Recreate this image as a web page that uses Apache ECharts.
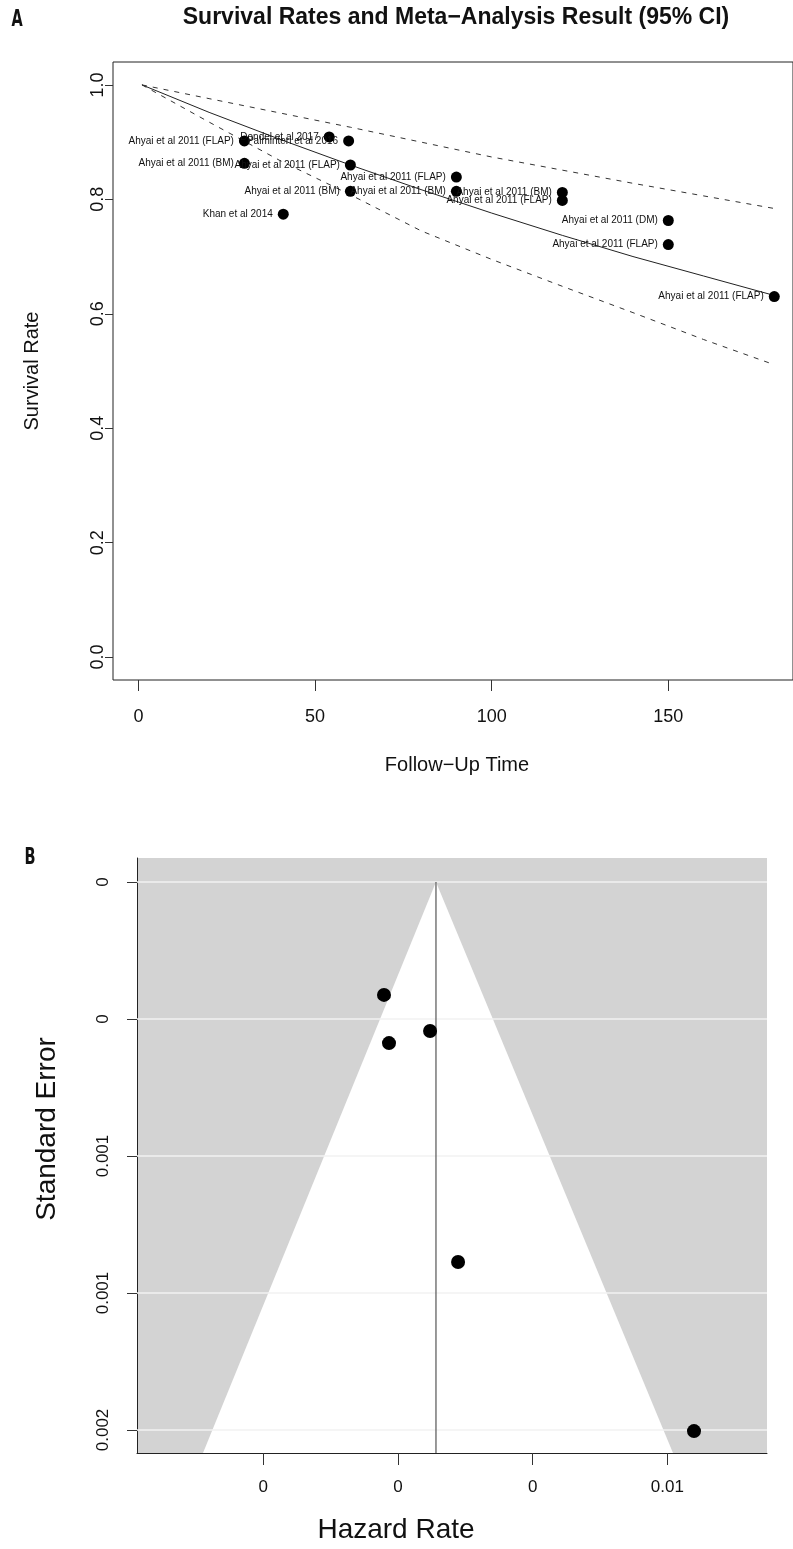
<!DOCTYPE html>
<html><head><meta charset="utf-8">
<script src="https://cdn.jsdelivr.net/npm/echarts@6/dist/echarts.min.js"></script>
<style>html,body{margin:0;padding:0;background:#fff}#c{width:793px;height:1549px}</style>
</head><body><div id="c"></div>
<script>
// ---------- Panel A data ----------
const studyLabels = [
  "Ahyai et al 2011 (FLAP)", "Dondel et al 2017", "Palminteri et al 2016",
  "Ahyai et al 2011 (BM)", "Ahyai et al 2011 (FLAP)", "Ahyai et al 2011 (FLAP)",
  "Ahyai et al 2011 (BM)", "Ahyai et al 2011 (BM)", "Ahyai et al 2011 (BM)",
  "Ahyai et al 2011 (FLAP)", "Khan et al 2014", "Ahyai et al 2011 (DM)",
  "Ahyai et al 2011 (FLAP)", "Ahyai et al 2011 (FLAP)"
];
const followUp = [30, 54, 59.5, 30, 60, 90, 60, 90, 120, 120, 41, 150, 150, 180];
const survival = [0.902, 0.909, 0.902, 0.863, 0.860, 0.839, 0.814, 0.814, 0.812, 0.798, 0.774, 0.763, 0.721, 0.630];

const curveTime = [1, 20, 40, 60, 80, 100, 120, 140, 160, 180];
const pooledSurvival = [1.000, 0.952, 0.905, 0.860, 0.817, 0.776, 0.737, 0.700, 0.666, 0.632];
const upperCI = [1.000, 0.976, 0.951, 0.926, 0.900, 0.874, 0.851, 0.828, 0.806, 0.784];
const lowerCI = [1.000, 0.935, 0.868, 0.808, 0.745, 0.695, 0.648, 0.602, 0.555, 0.511];

const xTicksA = [0, 50, 100, 150];
const yTicksA = [0, 0.2, 0.4, 0.6, 0.8, 1.0];

// ---------- Panel B data ----------
const hazardRate = [-0.00052, -0.000334, 0.00119, 0.00223, 0.01099];
const standardError = [0.000412, 0.000588, 0.000544, 0.001387, 0.002004];
const pooledHazard = 0.00141;
const funnelSE = [0, 0.002084];
const funnelLeft = [0.00141, -0.00724];
const funnelRight = [0.00141, 0.01021];

const xTicksB = [-0.005, 0, 0.005, 0.01];
const xTickLabelsB = ["0", "0", "0", "0.01"];
const yTicksB = [0, 0.0005, 0.001, 0.0015, 0.002];
const yTickLabelsB = ["0", "0", "0.001", "0.001", "0.002"];

const xRangeA = [-7.2, 185.3];
const yRangeA = [-0.04, 1.04];
const xRangeB = [-0.00969, 0.0137];
const yRangeB = [-0.0000876, 0.002084];

const FONT = "'Liberation Sans', Arial, Helvetica, sans-serif";
const NARROW = "'Liberation Sans Narrow', 'DejaVu Sans Condensed', 'Liberation Sans', sans-serif";

const chart = echarts.init(document.getElementById('c'), null, {renderer: 'canvas'});

const pair = (xs, ys) => xs.map((x, i) => [x, ys[i]]);

const option = {
  animation: false,
  backgroundColor: '#ffffff',
  textStyle: {fontFamily: FONT},
  grid: [
    {left: 113, top: 62, width: 680, height: 618, show: true, borderColor: '#222', borderWidth: 1, backgroundColor: 'transparent'},
    {left: 137, top: 858, width: 630, height: 595, show: true, borderWidth: 0, backgroundColor: '#d3d3d3'}
  ],
  xAxis: [
    {gridIndex: 0, type: 'value', min: xRangeA[0], max: xRangeA[1],
      splitLine: {show: false}, axisLine: {show: false, onZero: false},
      axisTick: {show: true, customValues: xTicksA, length: 11, lineStyle: {color: '#333'}},
      axisLabel: {customValues: xTicksA, margin: 28, fontSize: 18, color: '#111', fontFamily: FONT,
        formatter: v => String(v)}},
    {gridIndex: 1, type: 'value', min: xRangeB[0], max: xRangeB[1],
      splitLine: {show: false}, axisLine: {show: true, onZero: false, lineStyle: {color: '#222'}},
      axisTick: {show: true, customValues: xTicksB, length: 12, lineStyle: {color: '#333'}},
      axisLabel: {customValues: xTicksB, margin: 26, fontSize: 17, color: '#111', fontFamily: FONT,
        formatter: v => xTickLabelsB[xTicksB.indexOf(v)]}}
  ],
  yAxis: [
    {gridIndex: 0, type: 'value', min: yRangeA[0], max: yRangeA[1],
      splitLine: {show: false}, axisLine: {show: false, onZero: false},
      axisTick: {show: true, customValues: yTicksA, length: 8, lineStyle: {color: '#333'}},
      axisLabel: {customValues: yTicksA, margin: 6, fontSize: 18, color: '#111', rotate: 90, fontFamily: FONT,
        formatter: v => v.toFixed(1)}},
    {gridIndex: 1, type: 'value', min: yRangeB[0], max: yRangeB[1], inverse: true,
      splitLine: {show: false}, axisLine: {show: true, onZero: false, lineStyle: {color: '#222'}},
      axisTick: {show: true, customValues: yTicksB, length: 10, lineStyle: {color: '#333'}},
      axisLabel: {customValues: yTicksB, margin: 25, fontSize: 17, color: '#111', rotate: 90, fontFamily: FONT,
        formatter: v => yTickLabelsB[yTicksB.indexOf(v)]}}
  ],
  series: [
    {type: 'line', xAxisIndex: 0, yAxisIndex: 0, data: pair(curveTime, pooledSurvival), symbol: 'none',
      lineStyle: {color: '#222', width: 1}, silent: true, z: 2},
    {type: 'line', xAxisIndex: 0, yAxisIndex: 0, data: pair(curveTime, upperCI), symbol: 'none',
      lineStyle: {color: '#333', width: 1, type: [5, 6]}, silent: true, z: 2},
    {type: 'line', xAxisIndex: 0, yAxisIndex: 0, data: pair(curveTime, lowerCI), symbol: 'none',
      lineStyle: {color: '#333', width: 1, type: [5, 6]}, silent: true, z: 2},
    {type: 'scatter', xAxisIndex: 0, yAxisIndex: 0, symbol: 'circle', symbolSize: 11,
      itemStyle: {color: '#000', opacity: 1}, z: 3,
      data: followUp.map((t, i) => ({value: [t, survival[i]], name: studyLabels[i]})),
      label: {show: true, position: 'left', distance: 5, formatter: p => p.name,
        fontSize: 10, color: '#111', fontFamily: FONT}},
    // Panel B: white funnel region
    {type: 'custom', xAxisIndex: 1, yAxisIndex: 1, data: [0], silent: true, z: 1,
      renderItem: (params, api) => {
        const pts = [api.coord([funnelLeft[0], funnelSE[0]]), api.coord([funnelLeft[1], funnelSE[1]]),
                     api.coord([funnelRight[1], funnelSE[1]]), api.coord([funnelRight[0], funnelSE[0]])];
        return {type: 'polygon', shape: {points: pts}, style: {fill: '#ffffff'}};
      }},
    // Panel B: white horizontal reference lines
    {type: 'custom', xAxisIndex: 1, yAxisIndex: 1, data: yTicksB, silent: true, z: 1,
      renderItem: (params, api) => {
        const v = api.value(0);
        const a = api.coord([xRangeB[0], v]);
        const b = api.coord([xRangeB[1], v]);
        return {type: 'line', shape: {x1: a[0], y1: a[1], x2: b[0], y2: b[1]}, style: {stroke: '#f2f2f2', lineWidth: 1.5}};
      }},
    {type: 'line', xAxisIndex: 1, yAxisIndex: 1, data: [[pooledHazard, funnelSE[0]], [pooledHazard, funnelSE[1]]],
      symbol: 'none', lineStyle: {color: '#555', width: 1.2}, silent: true, z: 2},
    {type: 'scatter', xAxisIndex: 1, yAxisIndex: 1, symbol: 'circle', symbolSize: 14,
      itemStyle: {color: '#000', opacity: 1}, z: 3, data: pair(hazardRate, standardError)}
  ],
  graphic: [
    {type: 'text', x: 456, y: 18, style: {text: 'Survival Rates and Meta\u2212Analysis Result (95% CI)',
      font: 'bold 23px ' + FONT, fill: '#111', textAlign: 'center', textVerticalAlign: 'middle'}},
    {type: 'text', x: 457, y: 765, style: {text: 'Follow\u2212Up Time', font: '20px ' + FONT, fill: '#111',
      textAlign: 'center', textVerticalAlign: 'middle'}},
    {type: 'text', x: 32, y: 371, rotation: Math.PI / 2, style: {text: 'Survival Rate', font: '20px ' + FONT, fill: '#111',
      textAlign: 'center', textVerticalAlign: 'middle'}},
    {type: 'text', x: 396, y: 1530, style: {text: 'Hazard Rate', font: '28px ' + FONT, fill: '#111',
      textAlign: 'center', textVerticalAlign: 'middle'}},
    {type: 'text', x: 47, y: 1129, rotation: Math.PI / 2, style: {text: 'Standard Error', font: '28px ' + FONT, fill: '#111',
      textAlign: 'center', textVerticalAlign: 'middle'}},
    {type: 'text', x: 17, y: 20, scaleX: 0.7, style: {text: 'A', font: 'bold 23px ' + NARROW, fill: '#111',
      textAlign: 'center', textVerticalAlign: 'middle'}},
    {type: 'text', x: 30, y: 858, scaleX: 0.7, style: {text: 'B', font: 'bold 23px ' + NARROW, fill: '#111',
      textAlign: 'center', textVerticalAlign: 'middle'}}
  ]
};
chart.setOption(option);
</script>
</body></html>
